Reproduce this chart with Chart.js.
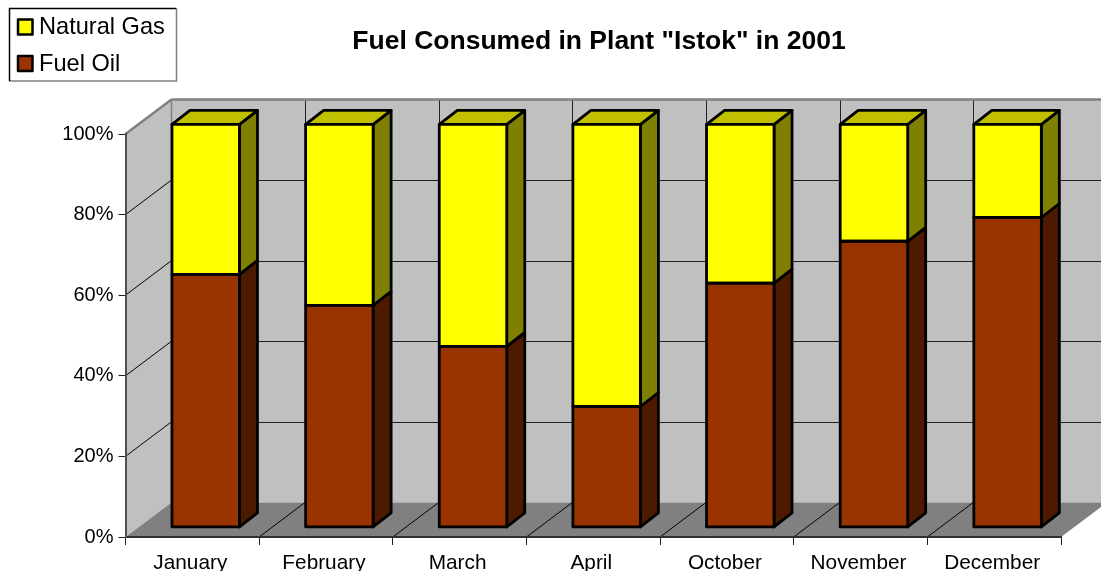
<!DOCTYPE html>
<html>
<head>
<meta charset="utf-8">
<title>Fuel Consumed in Plant "Istok" in 2001</title>
<script src="https://cdn.jsdelivr.net/npm/chart.js@4"></script>
<style>
  html, body { margin: 0; padding: 0; background: #fff; overflow: hidden; }
  canvas { display: block; }
</style>
</head>
<body>
<canvas id="fuelChart" width="1101" height="571"></canvas>
<script>
const categories = ['January', 'February', 'March', 'April', 'October', 'November', 'December'];
const fuelOil = [62.8, 55.1, 44.9, 30.0, 60.6, 71.0, 76.9];
const naturalGas = [37.2, 44.9, 55.1, 70.0, 39.4, 29.0, 23.1];

const FONT = '"Liberation Sans", Arial, sans-serif';
// how the flat chart is sheared into the fake 3D box
const WALL_DX = 46, WALL_DY = -34.6;
const BAR_DX = 13.4, BAR_DY = -9.6;
const SIDE_DX = 18, SIDE_DY = -14;

function poly(ctx, pts, fill, stroke, lw) {
  ctx.beginPath();
  pts.forEach((p, i) => i ? ctx.lineTo(p[0], p[1]) : ctx.moveTo(p[0], p[1]));
  ctx.closePath();
  if (fill) { ctx.fillStyle = fill; ctx.fill(); }
  if (stroke) { ctx.strokeStyle = stroke; ctx.lineWidth = lw; ctx.lineJoin = 'round'; ctx.stroke(); }
}

function seg(ctx, x1, y1, x2, y2, color, lw) {
  ctx.beginPath();
  ctx.moveTo(x1, y1);
  ctx.lineTo(x2, y2);
  ctx.strokeStyle = color;
  ctx.lineWidth = lw;
  ctx.stroke();
}

const crisp = v => Math.round(v) + 0.5;

const box3d = {
  id: 'box3d',
  afterLayout(chart) {
    // title sits right of the page centre, as in the original
    chart.titleBlock.left = 97;
    chart.titleBlock.right = 1101;
  },
  beforeDraw(chart) {
    const ctx = chart.ctx, { left, right, top, bottom } = chart.chartArea;
    const x = chart.scales.x, y = chart.scales.y;
    ctx.save();
    poly(ctx, [[left, top], [left + WALL_DX, top + WALL_DY], [left + WALL_DX, bottom + WALL_DY], [left, bottom]], '#C0C0C0');
    poly(ctx, [[left + WALL_DX, top + WALL_DY], [right + WALL_DX, top + WALL_DY], [right + WALL_DX, bottom + WALL_DY], [left + WALL_DX, bottom + WALL_DY]], '#C0C0C0');
    poly(ctx, [[left, bottom], [right, bottom], [right + WALL_DX, bottom + WALL_DY], [left + WALL_DX, bottom + WALL_DY]], '#808080');

    y.ticks.forEach(t => {
      const py = y.getPixelForValue(t.value);
      if (t.value > 0 && t.value < 100) {
        seg(ctx, left, py, left + WALL_DX, py + WALL_DY, '#000', 1);
        seg(ctx, left + WALL_DX, crisp(py + WALL_DY), right + WALL_DX, crisp(py + WALL_DY), '#202020', 1);
      }
    });
    const slot = (right - left) / categories.length;
    categories.forEach((c, i) => {
      const px = x.getPixelForValue(i) - slot / 2;
      if (i > 0) {
        seg(ctx, px, bottom, px + WALL_DX, bottom + WALL_DY, '#000', 1);
        seg(ctx, crisp(px + WALL_DX), bottom + WALL_DY, crisp(px + WALL_DX), top + WALL_DY, '#202020', 1);
      }
    });
    seg(ctx, left, top, left + WALL_DX, top + WALL_DY, '#808080', 2.5);
    seg(ctx, left + WALL_DX, top + WALL_DY, right + WALL_DX, top + WALL_DY, '#808080', 2.5);
    seg(ctx, left + WALL_DX, top + WALL_DY, left + WALL_DX, bottom + WALL_DY, '#808080', 1.5);
    ctx.restore();
  },
  beforeDatasetsDraw(chart) {
    const ctx = chart.ctx;
    ctx.save();
    ctx.translate(BAR_DX, BAR_DY);
    chart.data.datasets.forEach((ds, d) => {
      chart.getDatasetMeta(d).data.forEach(bar => {
        const l = bar.x - bar.width / 2, r = bar.x + bar.width / 2;
        poly(ctx, [[r, bar.y], [r + SIDE_DX, bar.y + SIDE_DY], [r + SIDE_DX, bar.base + SIDE_DY], [r, bar.base]], ds.sideColor, '#000', 2.8);
        if (d === chart.data.datasets.length - 1) {
          poly(ctx, [[l, bar.y], [l + SIDE_DX, bar.y + SIDE_DY], [r + SIDE_DX, bar.y + SIDE_DY], [r, bar.y]], ds.topColor, '#000', 2.8);
        }
      });
    });
  },
  afterDatasetsDraw(chart) {
    const ctx = chart.ctx;
    chart.data.datasets.forEach((ds, d) => {
      chart.getDatasetMeta(d).data.forEach(bar => {
        const l = bar.x - bar.width / 2, r = bar.x + bar.width / 2;
        poly(ctx, [[l, bar.y], [r, bar.y], [r, bar.base], [l, bar.base]], null, '#000', 2.8);
      });
    });
    ctx.restore();
  },
  afterDraw(chart) {
    // legend box with the thin grey shadow edge
    const ctx = chart.ctx;
    ctx.save();
    ctx.fillStyle = '#fff';
    ctx.fillRect(9, 8.5, 168, 72.5);
    seg(ctx, 176.5, 8, 176.5, 81.5, '#808080', 1.5);
    seg(ctx, 9, 81, 177, 81, '#808080', 1.5);
    seg(ctx, 9, 8.5, 176, 8.5, '#000', 1.5);
    seg(ctx, 9.5, 8, 9.5, 81, '#000', 1.5);
    const rows = [chart.data.datasets[1], chart.data.datasets[0]];
    rows.forEach((ds, i) => {
      const sy = 19.5 + i * 36.5;
      poly(ctx, [[18, sy], [32.5, sy], [32.5, sy + 15], [18, sy + 15]], ds.backgroundColor, '#000', 2.5);
      ctx.fillStyle = '#000';
      ctx.font = '23.6px ' + FONT;
      ctx.textBaseline = 'alphabetic';
      ctx.fillText(ds.label, 39, 33.7 + i * 37);
    });
    ctx.restore();
  }
};

new Chart(document.getElementById('fuelChart'), {
  type: 'bar',
  data: {
    labels: categories,
    datasets: [
      { label: 'Fuel Oil', data: fuelOil, backgroundColor: '#993300', sideColor: '#4D1A00', topColor: '#4D1A00', clip: false },
      { label: 'Natural Gas', data: naturalGas, backgroundColor: '#FFFF00', sideColor: '#808000', topColor: '#C0C000', clip: false }
    ]
  },
  options: {
    responsive: false,
    animation: false,
    categoryPercentage: 1,
    barPercentage: 0.505,
    layout: { padding: { right: 40, top: 0, left: 0, bottom: 0 } },
    plugins: {
      legend: { display: false },
      tooltip: { enabled: false },
      title: {
        display: true,
        text: 'Fuel Consumed in Plant "Istok" in 2001',
        color: '#000',
        font: { family: FONT, size: 26.5, weight: 'bold', lineHeight: 1.2 },
        padding: { top: 26, bottom: 76.2 }
      }
    },
    scales: {
      x: {
        stacked: true,
        afterFit(scale) { scale.height = 34; },
        grid: { drawOnChartArea: false, tickLength: 8, color: '#202020', lineWidth: 1 },
        border: { color: '#303030', width: 2 },
        ticks: {
          color: '#000',
          font: { family: FONT, size: 20.8 },
          autoSkip: false,
          maxRotation: 0,
          padding: 6,
          labelOffset: -2
        }
      },
      y: {
        stacked: true,
        min: 0,
        max: 100,
        afterFit(scale) { scale.width = 125.5; },
        grid: { drawOnChartArea: false, tickLength: 7, color: '#202020', lineWidth: 1 },
        border: { color: '#505050', width: 2 },
        ticks: {
          stepSize: 20,
          color: '#000',
          font: { family: FONT, size: 20 },
          padding: 5,
          callback: v => v + '%'
        }
      }
    }
  },
  plugins: [box3d]
});
</script>
</body>
</html>
